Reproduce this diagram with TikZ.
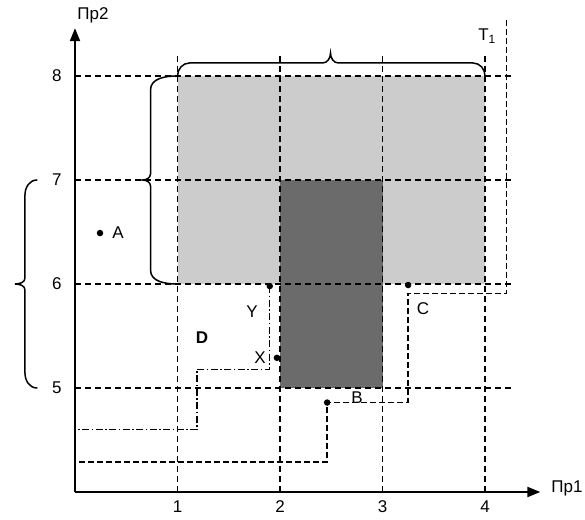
\documentclass[tikz,border=0pt]{standalone}
\usepackage{fontspec}
\setmainfont{Liberation Sans}
\usepackage{tikz}
\usetikzlibrary{arrows.meta}
\definecolor{lightshade}{gray}{0.80}
\definecolor{darkshade}{gray}{0.42}

\begin{document}
\begin{tikzpicture}[
  x=102.5pt, y=104pt,
  font=\fontsize{17}{19}\selectfont,
  grid/.style={dash pattern=on 6pt off 4pt, line width=1.8pt},
  proj/.style={dash pattern=on 6pt off 3pt, line width=1.6pt},
  projdot/.style={dash pattern=on 7pt off 2.5pt on 1.5pt off 2.5pt, line width=1.1pt},
  axis/.style={line width=2pt, -{Triangle[length=13pt, width=10pt]}},
  brc/.style={line width=1.5pt, line cap=round},
  dot/.style={circle, fill=black, inner sep=0pt, minimum size=6.5pt},
  lbl/.style={inner sep=0pt},
]
\useasboundingbox (-0.7317,3.7404) rectangle (4.9756,8.7308);

%% ---- Shaded regions ----
\fill[lightshade] (1,6) rectangle (4,8);
\fill[darkshade] (2,5) rectangle (3,7);

%% ---- Grid ----
\foreach \y in {5,...,8}{
  \draw[grid] (0,\y) -- (4.27,\y);
  \node[lbl] (ly\y) at (-0.176,\y) {\y};
}
\foreach \x in {1,...,4}{
  \draw[grid] (\x,4) -- (\x,8.23);
  \node[lbl] (lx\x) at (\x,3.856) {\x};
}

%% ---- Axes ----
\coordinate (O) at (0,4);
\coordinate (xend) at (4.54,4);
\coordinate (yend) at (0,8.46);
\draw[axis] (O) -- (xend);
\draw[axis] (O) -- (yend);
\node[lbl] (npr2) at (0.176,8.587) {Пр2};
\node[lbl] (npr1) at (4.80,4.03) {Пр1};

%% ---- Points ----
\node[dot] (A) at (0.244,6.49) {};
\node[dot] (Yp) at (1.90,5.98) {};
\node[dot] (Xp) at (1.97,5.29) {};
\node[dot] (C) at (3.25,5.99) {};
\node[dot] (B) at (2.46,4.86) {};

\node[lbl] (lA) at (0.42,6.49) {A};
\node[lbl] (lY) at (1.727,5.73) {Y};
\node[lbl] (lX) at (1.805,5.29) {X};
\node[lbl] (lC) at (3.395,5.76) {C};
\node[lbl] (lB) at (2.751,4.91) {B};
\node[lbl, font=\fontsize{17}{19}\selectfont\bfseries] (lD) at (1.239,5.48) {D};
\node[lbl] (lT) at (4.02,8.385) {T\textsubscript{1}};

%% ---- Projection lines ----
\coordinate (yk) at (1.19,5.18);
\coordinate (yax) at (0,4.60);
\draw[projdot] (Yp.center) |- (yk) |- (yax);

\coordinate (tk) at (4.21,8.54);
\coordinate (ck) at (3.25,5.91);
\coordinate (bax) at (0,4.29);
\draw[proj] (tk) |- (ck) |- (B.center) |- (bax);

%% ---- Braces ----
\draw[brc] (1,8) to[out=90,in=180] ++(12pt,13pt) -- ++(133pt,0)
  to[out=0,in=-90] ++(8pt,10pt) to[out=-90,in=180] ++(8pt,-10pt)
  -- ++(134.5pt,0) to[out=0,in=90] ++(12pt,-13pt);
\draw[brc] (1,8) to[out=180,in=90] ++(-27pt,-14pt) -- ++(0,-84pt)
  to[out=-90,in=0] ++(-8pt,-6pt) to[out=0,in=90] ++(8pt,-6pt)
  -- ++(0,-84pt) to[out=-90,in=180] ++(27pt,-14pt);
\draw[brc] (-0.371,7) to[out=180,in=90] ++(-12pt,-15pt) -- ++(0,-83pt)
  to[out=-90,in=0] ++(-10pt,-6pt) to[out=0,in=90] ++(10pt,-6pt)
  -- ++(0,-83pt) to[out=-90,in=180] ++(12pt,-15pt);

\end{tikzpicture}
\end{document}
